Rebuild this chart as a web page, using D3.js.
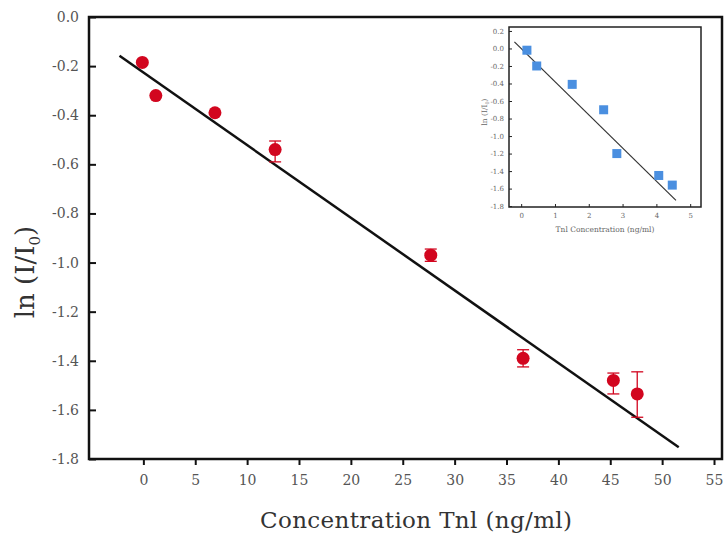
<!DOCTYPE html>
<html>
<head>
<meta charset="utf-8">
<script src="https://cdn.jsdelivr.net/npm/d3@7"></script>
<style>
  body { margin: 0; background: #fff; }
  svg text { font-family: "DejaVu Serif", "Liberation Serif", serif; }
</style>
</head>
<body>
<div id="chart"></div>
<script>
// main data
var conc   = [-0.1, 1.2, 6.9, 12.7, 27.7, 36.6, 45.3, 47.6];
var lnI    = [-0.185, -0.32, -0.39, -0.54, -0.97, -1.39, -1.48, -1.535];
var errUp  = [0, 0, 0, 0.035, 0.025, 0.035, 0.03, 0.09];
var errDn  = [0, 0, 0, 0.05, 0.025, 0.035, 0.055, 0.095];
var fitX   = [-2.3, 51.6];
var fitY   = [-0.158, -1.752];
var xTicks = [0, 5, 10, 15, 20, 25, 30, 35, 40, 45, 50, 55];
var yTicks = [0, -0.2, -0.4, -0.6, -0.8, -1.0, -1.2, -1.4, -1.6, -1.8];

// inset data
var insetX     = [0.17, 0.46, 1.51, 2.44, 2.83, 4.07, 4.47];
var insetY     = [-0.02, -0.2, -0.41, -0.70, -1.20, -1.45, -1.56];
var insetFitX  = [-0.2, 4.58];
var insetFitY  = [0.075, -1.735];
var insetXTicks = [0, 1, 2, 3, 4, 5];
var insetYTicks = [0.2, 0, -0.2, -0.4, -0.6, -0.8, -1.0, -1.2, -1.4, -1.6, -1.8];

// plain hyphen instead of unicode minus
var f1 = function(d) { return d3.format(".1f")(d).replace("\u2212", "-"); };

var W = 725, H = 533;
var margin = {top: 17, right: 3, bottom: 74, left: 89},
    width = W - margin.left - margin.right,
    height = H - margin.top - margin.bottom;

var root = d3.select("#chart").append("svg")
    .attr("width", W)
    .attr("height", H);

var svg = root.append("g")
    .attr("transform", "translate(" + margin.left + "," + margin.top + ")");

var x = d3.scaleLinear().domain([-5.24, 55.77]).range([0, width]);
var y = d3.scaleLinear().domain([-1.8, 0]).range([height, 0]);

// x axis, ticks outward
var xa = svg.append("g")
    .attr("transform", "translate(0," + height + ")")
    .call(d3.axisBottom(x).tickValues(xTicks).tickSize(6).tickPadding(10).tickFormat(d3.format("d")));
xa.select(".domain").remove();
xa.selectAll("line").attr("stroke", "#111").attr("stroke-width", 2);
xa.selectAll("text").attr("font-size", 14).attr("fill", "#555");

// y axis, ticks inward
var ya = svg.append("g")
    .call(d3.axisLeft(y).tickValues(yTicks).tickSize(-7).tickPadding(10).tickFormat(f1));
ya.select(".domain").remove();
ya.selectAll("line").attr("stroke", "#111").attr("stroke-width", 2);
ya.selectAll("text").attr("font-size", 14).attr("fill", "#555");

// frame
svg.append("rect")
    .attr("width", width).attr("height", height)
    .attr("fill", "none").attr("stroke", "#111").attr("stroke-width", 2.5);

// fit line
svg.append("line")
    .attr("x1", x(fitX[0])).attr("y1", y(fitY[0]))
    .attr("x2", x(fitX[1])).attr("y2", y(fitY[1]))
    .attr("stroke", "#111").attr("stroke-width", 2.5);

var pts = conc.map(function(c, i) { return {x: c, y: lnI[i], up: errUp[i], dn: errDn[i]}; });
var red = "#d2061f";

// error bars
var eb = svg.selectAll(".eb").data(pts.filter(function(d) { return d.up > 0 || d.dn > 0; }))
  .enter().append("g").attr("stroke", red).attr("stroke-width", 1.3);
eb.append("line")
    .attr("x1", function(d) { return x(d.x); }).attr("x2", function(d) { return x(d.x); })
    .attr("y1", function(d) { return y(d.y + d.up); }).attr("y2", function(d) { return y(d.y - d.dn); });
eb.append("line")
    .attr("x1", function(d) { return x(d.x) - 6; }).attr("x2", function(d) { return x(d.x) + 6; })
    .attr("y1", function(d) { return y(d.y + d.up); }).attr("y2", function(d) { return y(d.y + d.up); });
eb.append("line")
    .attr("x1", function(d) { return x(d.x) - 6; }).attr("x2", function(d) { return x(d.x) + 6; })
    .attr("y1", function(d) { return y(d.y - d.dn); }).attr("y2", function(d) { return y(d.y - d.dn); });

// points
svg.selectAll(".pt").data(pts).enter().append("circle")
    .attr("cx", function(d) { return x(d.x); })
    .attr("cy", function(d) { return y(d.y); })
    .attr("r", 6.5)
    .attr("fill", red);

// axis titles
root.append("text")
    .attr("x", 416).attr("y", 528)
    .attr("text-anchor", "middle")
    .attr("font-size", 23).attr("fill", "#333")
    .attr("textLength", 312)
    .text("Concentration Tnl (ng/ml)");

var yl = root.append("text")
    .attr("transform", "translate(34,272) rotate(-90)")
    .attr("text-anchor", "middle")
    .attr("font-size", 26).attr("fill", "#333");
yl.append("tspan").text("ln (I/I");
yl.append("tspan").attr("font-size", 15).attr("dy", 6).text("0");
yl.append("tspan").attr("dy", -6).text(")");

// ---- inset ----
var ix0 = 509, iy0 = 27, iw = 192, ih = 180;
var inset = root.append("g").attr("transform", "translate(" + ix0 + "," + iy0 + ")");

var xi = d3.scaleLinear().domain([-0.36, 5.32]).range([0, iw]);
var yi = d3.scaleLinear().domain([-1.81, 0.245]).range([ih, 0]);

var ixa = inset.append("g")
    .attr("transform", "translate(0," + ih + ")")
    .call(d3.axisBottom(xi).tickValues(insetXTicks).tickSize(-3).tickPadding(6).tickFormat(d3.format("d")));
ixa.select(".domain").remove();
ixa.selectAll("line").attr("stroke", "#222");
ixa.selectAll("text").attr("font-size", 7).attr("fill", "#666");

var iya = inset.append("g")
    .call(d3.axisLeft(yi).tickValues(insetYTicks).tickSize(-3).tickPadding(5).tickFormat(f1));
iya.select(".domain").remove();
iya.selectAll("line").attr("stroke", "#222");
iya.selectAll("text").attr("font-size", 7).attr("fill", "#666");

inset.append("rect")
    .attr("width", iw).attr("height", ih)
    .attr("fill", "none").attr("stroke", "#222").attr("stroke-width", 1.5);

inset.append("line")
    .attr("x1", xi(insetFitX[0])).attr("y1", yi(insetFitY[0]))
    .attr("x2", xi(insetFitX[1])).attr("y2", yi(insetFitY[1]))
    .attr("stroke", "#333").attr("stroke-width", 1.2);

inset.selectAll(".sq").data(insetX).enter().append("rect")
    .attr("x", function(d) { return xi(d) - 4.5; })
    .attr("y", function(d, i) { return yi(insetY[i]) - 4.5; })
    .attr("width", 9).attr("height", 9)
    .attr("fill", "#4a8fe0");

inset.append("text")
    .attr("x", iw / 2).attr("y", ih + 25)
    .attr("text-anchor", "middle")
    .attr("font-size", 7.5).attr("fill", "#666")
    .text("Tnl Concentration (ng/ml)");

var iyl = inset.append("text")
    .attr("transform", "translate(-22," + (ih / 2 - 5) + ") rotate(-90)")
    .attr("text-anchor", "middle")
    .attr("font-size", 7.5).attr("fill", "#666");
iyl.append("tspan").text("ln (I/I");
iyl.append("tspan").attr("font-size", 5).attr("dy", 2).text("0");
iyl.append("tspan").attr("dy", -2).text(")");
</script>
</body>
</html>
